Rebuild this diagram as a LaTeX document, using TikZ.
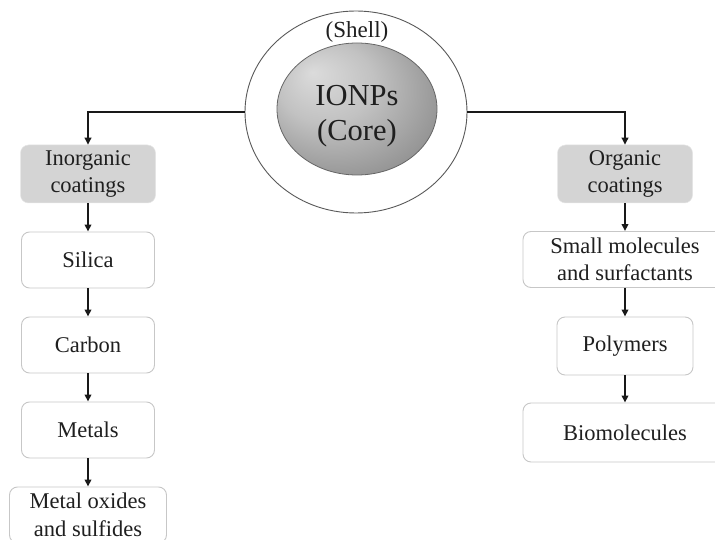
\documentclass[tikz,border=0pt]{standalone}
\usepackage{fontspec}
\setmainfont{Liberation Serif}
\usetikzlibrary{shapes.geometric,arrows.meta}
\pgfdeclareradialshading{coreshade}{\pgfpoint{-14bp}{14bp}}{color(0bp)=(black!14); color(15bp)=(black!24); color(35bp)=(black!45); color(50bp)=(black!55)}
\tikzset{
  boxtext/.style={font=\fontsize{22.5}{27.5}\selectfont, text=black!88, align=center},
  plainbox/.style={boxtext, draw=black!22, line width=0.9pt, fill=white, rounded corners=8pt,
    minimum width=133pt, minimum height=56pt, inner sep=0pt},
  headbox/.style={boxtext, fill=black!17, draw=black!10, line width=0.5pt, rounded corners=8pt,
    minimum width=135pt, minimum height=58pt, inner sep=0pt},
  conn/.style={line width=2pt, draw=black!90, -{Triangle[length=7pt,width=6.5pt]}},
}
\begin{document}
\begin{tikzpicture}[x=1pt,y=-1pt]
\useasboundingbox (0,0) rectangle (715,540);
\clip (0,0) rectangle (715,540);
% shell and core
\node[ellipse, draw=black!65, line width=0.9pt, fill=white, minimum width=222pt, minimum height=202pt, inner sep=0pt] (shell) at (356,112) {};
\node[ellipse, draw=black!60, line width=0.8pt, shading=coreshade, minimum width=160pt, minimum height=132pt, inner sep=0pt] (core) at (357,109) {};
\node[font=\fontsize{23}{27}\selectfont, text=black!88] (shelltext) at (357,32) {(Shell)};
\node[font=\fontsize{30.5}{35}\selectfont, text=black!88, align=center] (coretext) at (357,116) {IONPs\\(Core)};
% left column
\node[headbox] (inorg) at (88,174) {Inorganic\\coatings};
\node[plainbox] (silica) at (88,260) {Silica};
\node[plainbox] (carbon) at (88,345) {Carbon};
\node[plainbox] (metals) at (88,430) {Metals};
\node[plainbox, minimum width=157pt] (oxides) at (88,515) {Metal oxides\\and sulfides};
% right column
\node[headbox] (org) at (625,174) {Organic\\coatings};
\node[plainbox, minimum width=204pt] (small) at (625,259.5) {Small molecules\\and surfactants};
\node[plainbox, minimum width=136pt, minimum height=58pt] (poly) at (625,346) {Polymers};
\node[plainbox, minimum width=204pt, minimum height=59pt] (bio) at (625,432.5) {Biomolecules};
% connectors
\draw[conn] (shell.west) -| (inorg.north);
\draw[conn] (shell.east) -| (org.north);
\draw[conn] (inorg.south) -- (silica.north);
\draw[conn] (silica.south) -- (carbon.north);
\draw[conn] (carbon.south) -- (metals.north);
\draw[conn] (metals.south) -- (oxides.north);
\draw[conn] (org.south) -- (small.north);
\draw[conn] (small.south) -- (poly.north);
\draw[conn] (poly.south) -- (bio.north);
\end{tikzpicture}
\end{document}
